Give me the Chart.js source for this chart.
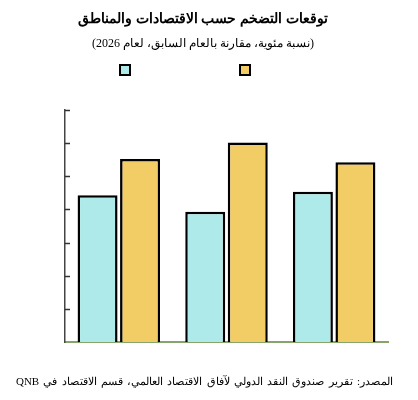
<!DOCTYPE html>
<html lang="ar">
<head>
<meta charset="utf-8">
<script src="https://cdn.jsdelivr.net/npm/chart.js@4"></script>
<style>
  body { margin: 0; background: #fff; }
  #wrap { position: relative; width: 418px; height: 400px; overflow: hidden; }
  #chart { position: absolute; left: 0; top: 0; }
  .txt { position: absolute; direction: rtl; white-space: nowrap; color: #000; }
  #title { left: 0; width: 406px; text-align: center; top: 10px; font: bold 14px "Liberation Sans", sans-serif; }
  #subtitle { left: 0; width: 406px; text-align: center; top: 36px; font: 12px "Liberation Serif", serif; }
  #source { right: 25px; top: 375px; font: 11px "Liberation Serif", serif; word-spacing: 1.5px; }
  .box { position: absolute; width: 8px; height: 8px; border: 2px solid #000; top: 64px; }
</style>
</head>
<body>
<div id="wrap">
  <canvas id="chart" width="418" height="400"></canvas>
  <div id="title" class="txt">توقعات التضخم حسب الاقتصادات والمناطق</div>
  <div id="subtitle" class="txt">(نسبة مئوية، مقارنة بالعام السابق، لعام 2026)</div>
  <div id="source" class="txt">المصدر: تقرير صندوق النقد الدولي لآفاق الاقتصاد العالمي، قسم الاقتصاد في QNB</div>
  <div id="legend"></div>
</div>
<script>
// values (percent), y axis 0..7 without labels
var categories = ['', '', ''];
var seriesA = [4.43, 3.93, 4.53];
var seriesB = [5.52, 6.02, 5.42];
var yTicks = [0, 1, 2, 3, 4, 5, 6, 7];

var colorA = '#aeeaea';
var colorB = '#f2cd66';

// legend squares (no legend text in the original)
[[colorA, 119], [colorB, 239]].forEach(function(item) {
  var d = document.createElement('div');
  d.className = 'box';
  d.style.left = item[1] + 'px';
  d.style.background = item[0];
  document.getElementById('legend').appendChild(d);
});

// short tick marks pointing into the plot area
var innerTicks = {
  id: 'innerTicks',
  afterDraw: function(chart) {
    var ctx = chart.ctx;
    var y = chart.scales.y;
    var x0 = chart.chartArea.left;
    ctx.save();
    ctx.strokeStyle = '#333';
    ctx.lineWidth = 1.5;
    yTicks.forEach(function(v) {
      if (v === 0) return;
      var py = Math.round(y.getPixelForValue(v)) + 0.5;
      ctx.beginPath();
      ctx.moveTo(x0, py);
      ctx.lineTo(x0 + 5, py);
      ctx.stroke();
    });
    ctx.restore();
  }
};

new Chart(document.getElementById('chart'), {
  type: 'bar',
  plugins: [innerTicks],
  data: {
    labels: categories,
    datasets: [
      { label: '', data: seriesA, backgroundColor: colorA, borderColor: '#000', borderWidth: 2.5, borderSkipped: 'bottom' },
      { label: '', data: seriesB, backgroundColor: colorB, borderColor: '#000', borderWidth: 2.5, borderSkipped: 'bottom' }
    ]
  },
  options: {
    responsive: false,
    animation: false,
    events: [],
    layout: { padding: { left: 65, right: 30, top: 110, bottom: 58 } },
    datasets: { bar: { categoryPercentage: 0.79, barPercentage: 0.94 } },
    scales: {
      x: {
        ticks: { display: false },
        grid: { display: false, drawTicks: false },
        border: { color: '#86a46c', width: 2 }
      },
      y: {
        min: 0,
        max: 7,
        ticks: { display: false, stepSize: 1 },
        grid: { display: false, drawTicks: false },
        border: { color: '#444', width: 1.5 }
      }
    },
    plugins: {
      legend: { display: false },
      title: { display: false },
      tooltip: { enabled: false }
    }
  }
});
</script>
</body>
</html>
